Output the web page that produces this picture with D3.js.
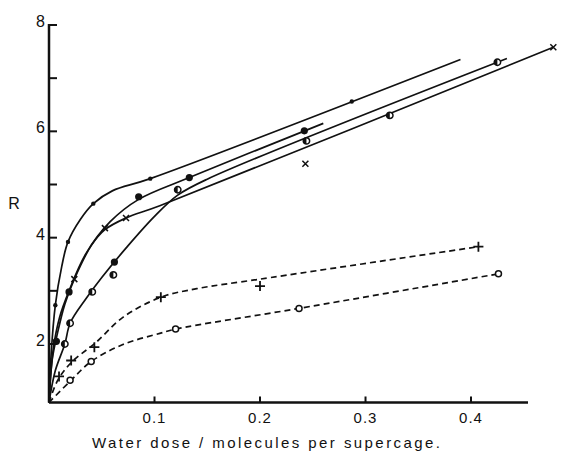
<!DOCTYPE html>
<html>
<head>
<meta charset="utf-8">
<script src="https://cdn.jsdelivr.net/npm/d3@7"></script>
<style>
  body { margin: 0; background: #fff; }
  text { font-family: "Liberation Sans", Arial, sans-serif; fill: #111; }
</style>
</head>
<body>
<div id="chart"></div>
<script>
// tick values
const xTicks = [0.1, 0.2, 0.3, 0.4];
const yTicks = [2, 3, 4, 5, 6, 7, 8];
const yTickLabels = [2, 4, 6, 8];

// measured points  [water dose, R]
const smallDotPts = [[0.006, 2.73], [0.018, 3.92], [0.042, 4.64], [0.096, 5.11], [0.287, 6.56]];
const bigDotPts = [[0.007, 2.05], [0.019, 2.98], [0.062, 3.54], [0.085, 4.77], [0.133, 5.13], [0.242, 6.01]];
const halfPts = [[0.015, 2.0], [0.020, 2.39], [0.041, 2.98], [0.061, 3.30], [0.122, 4.9], [0.244, 5.82], [0.323, 6.3], [0.425, 7.3]];
const crossPts = [[0.024, 3.22], [0.053, 4.18], [0.073, 4.37], [0.243, 5.39], [0.478, 7.58]];
const plusPts = [[0.0095, 1.39], [0.021, 1.69], [0.043, 1.94], [0.106, 2.88], [0.2, 3.09], [0.407, 3.83]];
const openPts = [[0.020, 1.32], [0.040, 1.67], [0.12, 2.28], [0.237, 2.67], [0.426, 3.32]];

// hand drawn curves through the points
const curveA = [[0, 0.9], [0.002, 1.8], [0.006, 2.73], [0.012, 3.45], [0.018, 3.92], [0.03, 4.35], [0.042, 4.64], [0.06, 4.88], [0.096, 5.11], [0.39, 7.35]];
const curveB = [[0, 0.9], [0.004, 1.9], [0.01, 2.5], [0.019, 3.0], [0.035, 3.7], [0.058, 4.3], [0.085, 4.72], [0.133, 5.13], [0.26, 6.15]];
const curveC = [[0, 0.9], [0.006, 1.5], [0.015, 2.0], [0.020, 2.39], [0.035, 2.85], [0.05, 3.25], [0.075, 3.85], [0.1, 4.4], [0.122, 4.8], [0.15, 5.1], [0.434, 7.37]];
const curveD = [[0, 0.9], [0.003, 1.7], [0.008, 2.2], [0.015, 2.75], [0.024, 3.22], [0.04, 3.85], [0.053, 4.15], [0.073, 4.37], [0.105, 4.6], [0.478, 7.58]];
const curvePlus = [[0, 0.9], [0.0086, 1.33], [0.022, 1.67], [0.044, 2.02], [0.07, 2.5], [0.106, 2.88], [0.14, 3.04], [0.2, 3.22], [0.407, 3.83]];
const curveOpen = [[0, 0.9], [0.02, 1.3], [0.04, 1.67], [0.07, 1.99], [0.105, 2.2], [0.12, 2.28], [0.237, 2.67], [0.426, 3.32]];

const W = 563, H = 452;
const svg = d3.select("#chart").append("svg")
  .attr("width", W).attr("height", H);

const x = d3.scaleLinear().domain([0, 0.454]).range([49, 528]);
const y = d3.scaleLinear().domain([2, 8]).range([344, 25]);
const y0 = 0.9;

// axes
svg.append("line").attr("x1", x(0)).attr("x2", x(0.454))
  .attr("y1", y(y0)).attr("y2", y(y0))
  .attr("stroke", "#111").attr("stroke-width", 2.5);
svg.append("line").attr("x1", x(0)).attr("x2", x(0))
  .attr("y1", y(y0)).attr("y2", y(8) - 1)
  .attr("stroke", "#111").attr("stroke-width", 2.5);

svg.selectAll(".xt").data(xTicks).enter().append("line")
  .attr("x1", d => x(d)).attr("x2", d => x(d))
  .attr("y1", y(y0)).attr("y2", y(y0) - 6)
  .attr("stroke", "#111").attr("stroke-width", 2);
svg.selectAll(".xl").data(xTicks).enter().append("text")
  .attr("x", d => x(d)).attr("y", y(y0) + 21)
  .attr("text-anchor", "middle").attr("font-size", 15)
  .attr("letter-spacing", 1)
  .text(d => d3.format(".1f")(d));

svg.selectAll(".yt").data(yTicks).enter().append("line")
  .attr("x1", x(0)).attr("x2", x(0) + 8)
  .attr("y1", d => y(d)).attr("y2", d => y(d))
  .attr("stroke", "#111").attr("stroke-width", 2);
svg.selectAll(".yl").data(yTickLabels).enter().append("text")
  .attr("x", 45).attr("y", d => y(d) + 2)
  .attr("text-anchor", "end").attr("font-size", 16)
  .text(d => d);

svg.append("text").attr("x", 14).attr("y", 209)
  .attr("text-anchor", "middle").attr("font-size", 16).text("R");
svg.append("text").attr("x", 92).attr("y", 448)
  .attr("font-size", 15)
  .attr("textLength", 348).attr("lengthAdjust", "spacing")
  .text("Water dose / molecules per supercage.");

// curves
const line = d3.line().x(d => x(d[0])).y(d => y(d[1]))
  .curve(d3.curveCatmullRom.alpha(0.5));

[curveA, curveB, curveC, curveD].forEach(c => {
  svg.append("path").attr("d", line(c))
    .attr("fill", "none").attr("stroke", "#111").attr("stroke-width", 1.7);
});
[curvePlus, curveOpen].forEach(c => {
  svg.append("path").attr("d", line(c))
    .attr("fill", "none").attr("stroke", "#111").attr("stroke-width", 1.7)
    .attr("stroke-dasharray", "6,4");
});

// markers
const g = svg.append("g");
g.selectAll(".sd").data(smallDotPts).enter().append("circle")
  .attr("cx", d => x(d[0])).attr("cy", d => y(d[1])).attr("r", 2.2).attr("fill", "#111");
g.selectAll(".bd").data(bigDotPts).enter().append("circle")
  .attr("cx", d => x(d[0])).attr("cy", d => y(d[1])).attr("r", 3.6).attr("fill", "#111");
const half = g.selectAll(".hf").data(halfPts).enter().append("g")
  .attr("transform", d => `translate(${x(d[0])},${y(d[1])})`);
half.append("circle").attr("r", 3.2).attr("fill", "#fff").attr("stroke", "#111").attr("stroke-width", 1.5);
half.append("path").attr("d", "M0,-3.2A3.2,3.2 0 0,0 0,3.2Z").attr("fill", "#111");
g.selectAll(".op").data(openPts).enter().append("circle")
  .attr("cx", d => x(d[0])).attr("cy", d => y(d[1])).attr("r", 3)
  .attr("fill", "#fff").attr("stroke", "#111").attr("stroke-width", 1.5);
g.selectAll(".pl").data(plusPts).enter().append("path")
  .attr("transform", d => `translate(${x(d[0])},${y(d[1])})`)
  .attr("d", "M-5,0H5M0,-5V5").attr("stroke", "#111").attr("stroke-width", 1.8);
g.selectAll(".cr").data(crossPts).enter().append("path")
  .attr("transform", d => `translate(${x(d[0])},${y(d[1])})`)
  .attr("d", "M-3,-3L3,3M-3,3L3,-3").attr("stroke", "#111").attr("stroke-width", 1.5);
</script>
</body>
</html>
